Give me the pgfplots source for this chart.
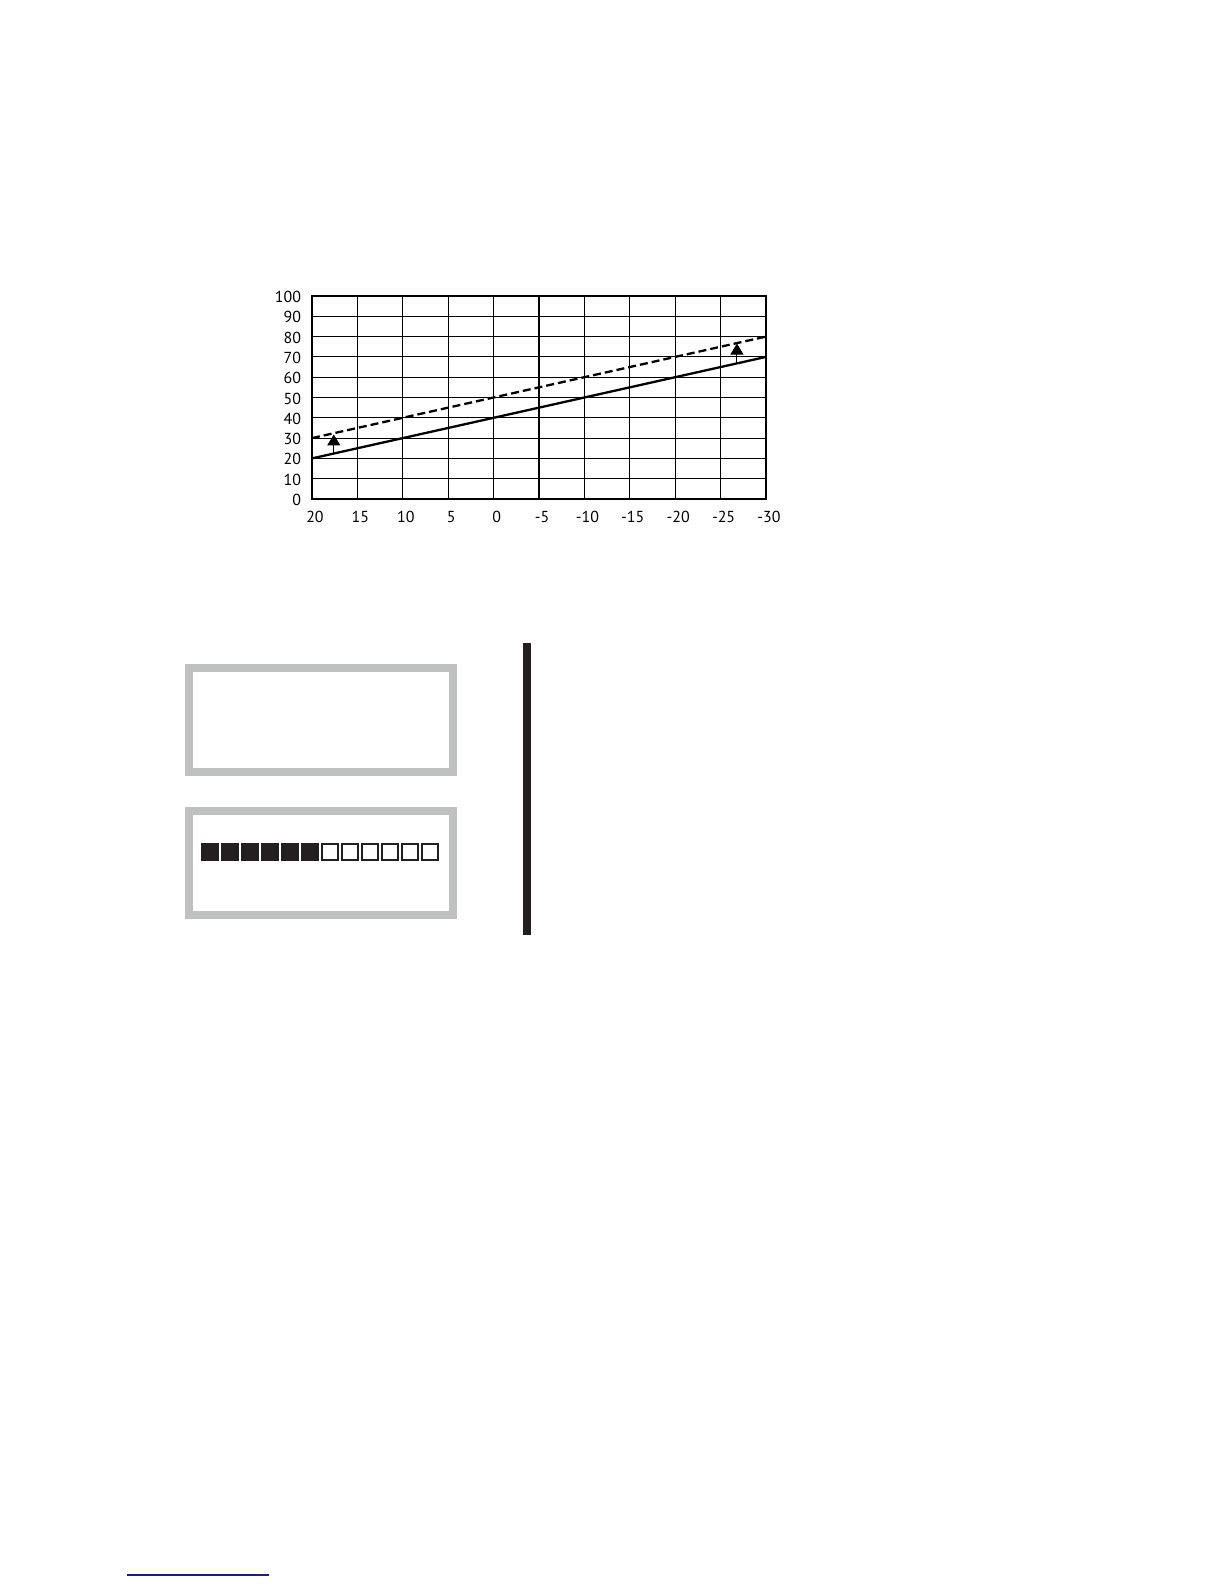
\documentclass[border=0pt]{standalone}
\usepackage{pgfplots}
\pgfplotsset{compat=1.18}
\usetikzlibrary{arrows.meta}
\usepackage{fontspec}
\setmainfont{PT Sans}
\definecolor{boxgrey}{HTML}{BFC1C1}
\definecolor{bar}{HTML}{231F20}
\definecolor{rulecol}{HTML}{1C1C8C}

\begin{document}
\begin{tikzpicture}
% page: 1 unit = 1 pixel of the reference
\begin{scope}[x=0.5bp,y=-0.5bp]
  \fill[white] (0,0) rectangle (1224,1584);
  \coordinate (origin) at (312,499);
  % grey frames
  \draw[boxgrey, line width=4bp] (189,668) rectangle (453,772);
  \draw[boxgrey, line width=4bp] (189,811) rectangle (453,915);
  % squares
  \foreach \i in {0,...,5} \fill[bar] (201+20*\i,843) rectangle ++(18,18);
  \foreach \i in {6,...,11} \draw[bar, line width=0.8bp] (202+20*\i,844) rectangle ++(16,16);
  % vertical bar
  \fill[bar] (523,643) rectangle (531,935);
  % footnote rule
  \draw[rulecol, line width=0.8bp] (127,1575) -- (269,1575);
\end{scope}

\begin{axis}[
  at={(origin)}, anchor=south west,
  scale only axis, width=227bp, height=101.5bp,
  xmin=-30, xmax=20, ymin=0, ymax=100,
  x dir=reverse,
  xtick={-30,-25,...,20}, ytick={0,10,...,100},
  major tick length=0pt,
  grid=major,
  major grid style={black, line width=0.55bp},
  axis line style={black, line width=1.35bp},
  /pgf/number format/assume math mode=true,
  tick label style={font=\fontsize{8}{9.6}\selectfont},
  xticklabel style={yshift=-2.5bp, xshift=1.5bp},
  yticklabel style={xshift=-2bp, yshift=-0.5bp},
  clip=false,
]
\addplot[black, line width=1.15bp] coordinates {(20,20) (-30,70)};
\addplot[black, line width=1.15bp, dash pattern=on 4bp off 2bp] coordinates {(20,30) (-30,80)};
\addplot[black, line width=0.5bp, -{Triangle[length=5.5bp, width=6.5bp]}] coordinates {(17.6,22.4) (17.6,31.8)};
\addplot[black, line width=0.5bp, -{Triangle[length=5.5bp, width=6.5bp]}] coordinates {(-26.8,66.8) (-26.8,76.6)};
\end{axis}
\end{tikzpicture}
\end{document}
